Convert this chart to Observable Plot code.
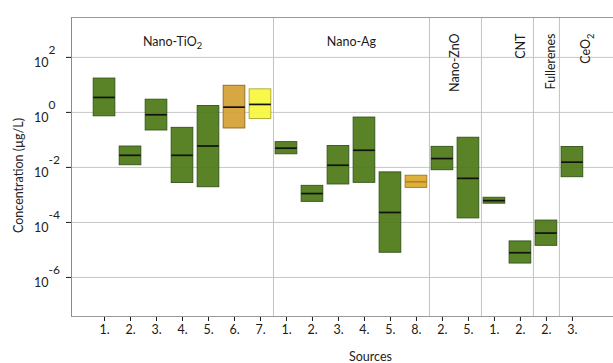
<!DOCTYPE html>
<html>
<head>
<meta charset="utf-8">
<script src="https://cdn.jsdelivr.net/npm/d3@7"></script>
<script src="https://cdn.jsdelivr.net/npm/@observablehq/plot@0.6"></script>
<style>
  html, body { margin: 0; padding: 0; background: #fff; }
  #chart svg { display: block; }
</style>
</head>
<body>
<div id="chart"></div>
<script>
// ---- data (concentrations in µg/L) ----
const material = ["Nano-TiO2","Nano-TiO2","Nano-TiO2","Nano-TiO2","Nano-TiO2","Nano-TiO2","Nano-TiO2",
                  "Nano-Ag","Nano-Ag","Nano-Ag","Nano-Ag","Nano-Ag","Nano-Ag",
                  "Nano-ZnO","Nano-ZnO","CNT","CNT","Fullerenes","CeO2"];
const sources  = ["1.","2.","3.","4.","5.","6.","7.","1.","2.","3.","4.","5.","8.","2.","5.","1.","2.","2.","3."];
const high   = [17, 5.75e-2, 2.9, 0.275, 1.7, 9.3, 6.9,
                8.3e-2, 2.14e-3, 6.0e-2, 0.65, 6.6e-3, 5.0e-3,
                5.6e-2, 0.12, 7.9e-4, 2.04e-5, 1.17e-4, 5.5e-2];
const median = [3.5, 2.75e-2, 0.82, 2.75e-2, 6.0e-2, 1.55, 1.95,
                5.0e-2, 1.12e-3, 1.2e-2, 4.2e-2, 2.3e-4, 3.0e-3,
                2.1e-2, 4.0e-3, 6.2e-4, 7.9e-6, 4.1e-5, 1.55e-2];
const low    = [0.72, 1.2e-2, 0.22, 2.7e-3, 1.9e-3, 0.26, 0.575,
                3.0e-2, 5.6e-4, 2.4e-3, 2.75e-3, 7.9e-6, 1.8e-3,
                7.9e-3, 1.4e-4, 4.8e-4, 3.2e-6, 1.41e-5, 4.4e-3];
const kind   = ["A","A","A","A","A","B","C","A","A","A","A","A","D","A","A","A","A","A","A"];
const yTicks = [1e2, 1e0, 1e-2, 1e-4, 1e-6];
const yLabel = "Concentration (µg/L)";
const xLabel = "Sources";

// ---- derived table ----
const rows = sources.map((s, i) => ({i, source: s, material: material[i], low: low[i], median: median[i], high: high[i], kind: kind[i]}));
const xDomain = [-1.27, 19.58];
const yDomain = [Math.pow(10, -7.42), Math.pow(10, 3.45)];
const groups = [];
material.forEach((m, i) => {
  if (!groups.length || groups[groups.length - 1].name !== m) groups.push({name: m, first: i, last: i});
  else groups[groups.length - 1].last = i;
});
groups.forEach((g, k) => {
  g.start = k === 0 ? xDomain[0] : g.first - 0.5;
  g.end = k === groups.length - 1 ? xDomain[1] : g.last + 0.5;
  g.center = (g.start + g.end) / 2;
  g.vertical = (g.last - g.first + 1) < 3;
});
const separators = groups.slice(1).map(g => g.first - 0.5);

// ---- styles ----
const half = 0.417;
const font = "Lato, 'Open Sans', sans-serif";
const nudge = {"CNT": 14, "Fullerenes": 4.5};
const boxStroke = {A: "#33521a", B: "#8a6a20", C: "#a8a830", D: "#a07818"};
const medStroke = {A: "#111", B: "#111", C: "#111", D: "#b08424"};

const headerMarks = groups.map(g => g.vertical
  ? Plot.text([g], {x: "center", text: "name", frameAnchor: "top", rotate: -90, textAnchor: "end", lineAnchor: "middle", dy: 16, dx: nudge[g.name] || 0, fill: "#1a1a1a", fontSize: 12.5})
  : Plot.text([g], {x: "center", text: "name", frameAnchor: "top", textAnchor: "middle", lineAnchor: "middle", dy: 24, fill: "#1a1a1a", fontSize: 12.5}));

const chart = Plot.plot({
  width: 613,
  height: 363,
  marginLeft: 71,
  marginRight: 0,
  marginTop: 17,
  marginBottom: 47,
  style: {fontFamily: font, fontSize: "12.5px", color: "#1a1a1a", background: "#fff", overflow: "visible"},
  x: {type: "linear", domain: xDomain, axis: "bottom", ticks: rows.map(d => d.i), tickFormat: i => sources[i], tickSize: 5, tickPadding: 4, label: null},
  y: {type: "log", domain: yDomain, axis: "left", ticks: yTicks, tickFormat: () => "", tickSize: 5, label: null},
  color: {domain: ["A","B","C","D"], range: ["#4e7a17", "#d4a035", "#f8f83c", "#dbaa2c"]},
  marks: [
    Plot.ruleY(yTicks, {stroke: "#c6c6c6", strokeWidth: 1}),
    Plot.ruleX(separators, {stroke: "#c2c2c2", strokeWidth: 1}),
    Plot.ruleY([yDomain[1]], {stroke: "#9a9a9a", strokeWidth: 1}),
    Plot.ruleY([yDomain[0]], {stroke: "#9a9a9a", strokeWidth: 1}),
    Plot.ruleX([xDomain[0]], {stroke: "#8a8a8a", strokeWidth: 1}),
    Plot.rect(rows, {x1: d => d.i - half, x2: d => d.i + half, y1: "low", y2: "high", fill: "kind", fillOpacity: 0.93, stroke: d => boxStroke[d.kind], strokeWidth: 0.9}),
    Plot.ruleY(rows, {x1: d => d.i - half, x2: d => d.i + half, y: "median", stroke: d => medStroke[d.kind], strokeWidth: 1.7}),
    ...headerMarks,
    Plot.text(yTicks, {y: d => d, text: () => "10", frameAnchor: "left", textAnchor: "end", lineAnchor: "middle", dx: -23, dy: 5.5, fill: "#222", fontSize: 12.5}),
    Plot.text(yTicks, {y: d => d, text: d => String(Math.round(Math.log10(d))), frameAnchor: "left", textAnchor: "start", lineAnchor: "middle", dx: -23, dy: -7, fill: "#222", fontSize: 12}),
    Plot.text([yLabel], {frameAnchor: "left", rotate: -90, textAnchor: "middle", lineAnchor: "middle", dx: -53, dy: 8.5, fill: "#222", fontSize: 12.5}),
    Plot.text([xLabel], {frameAnchor: "bottom", textAnchor: "middle", lineAnchor: "middle", dx: 28, dy: 40.5, fill: "#222", fontSize: 12.5})
  ]
});

// subscripts for chemical formulas (TiO2, CeO2)
d3.select(chart).selectAll("text").each(function() {
  const t = this.textContent;
  if (this.childElementCount === 0 && /O2$/.test(t)) {
    this.textContent = t.slice(0, -1);
    d3.select(this).append("tspan").attr("dy", "0.35em").attr("font-size", "0.75em").text("2");
  }
});

document.getElementById("chart").appendChild(chart);
</script>
</body>
</html>
